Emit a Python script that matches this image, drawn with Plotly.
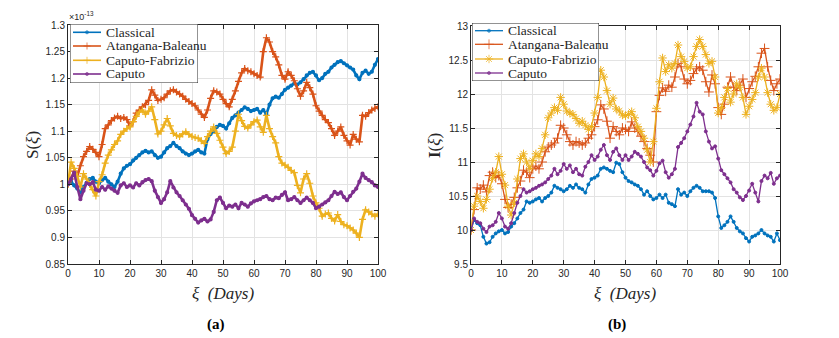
import plotly.graph_objects as go

# ---- data ----
days = list(range(0, 101))
names = ["Classical", "Atangana-Baleanu", "Caputo-Fabrizio", "Caputo"]
colors = ["#0072BD", "#D95319", "#EDB120", "#7E2F8E"]

# panel (a): S(xi), in units of 1e-13
s_classical = [1.000, 1.005, 0.998, 0.992, 0.985, 0.995, 1.003, 1.010, 1.012, 1.005,
               1.002, 1.008, 1.012, 1.005, 1.000, 0.995, 1.005, 1.020, 1.030, 1.035,
               1.038, 1.045, 1.050, 1.055, 1.060, 1.063, 1.060, 1.062, 1.055, 1.050,
               1.052, 1.060, 1.068, 1.072, 1.078, 1.072, 1.068, 1.062, 1.058, 1.055,
               1.058, 1.062, 1.065, 1.060, 1.058, 1.085, 1.095, 1.100, 1.108, 1.112,
               1.110, 1.105, 1.115, 1.125, 1.130, 1.135, 1.140, 1.145, 1.142, 1.138,
               1.140, 1.142, 1.135, 1.140, 1.132, 1.150, 1.162, 1.165, 1.163, 1.170,
               1.178, 1.182, 1.186, 1.190, 1.188, 1.192, 1.198, 1.205, 1.210, 1.212,
               1.205, 1.196, 1.200, 1.208, 1.212, 1.220, 1.225, 1.230, 1.232, 1.228,
               1.224, 1.220, 1.216, 1.205, 1.198, 1.210, 1.214, 1.208, 1.212, 1.225,
               1.236]
s_atangana = [1.000, 1.010, 1.025, 1.015, 1.035, 1.052, 1.062, 1.071, 1.066, 1.060,
              1.052, 1.075, 1.105, 1.112, 1.120, 1.125, 1.128, 1.124, 1.126, 1.122,
              1.110, 1.118, 1.134, 1.140, 1.146, 1.150, 1.158, 1.178, 1.168, 1.158,
              1.160, 1.163, 1.170, 1.176, 1.178, 1.174, 1.170, 1.166, 1.160, 1.156,
              1.152, 1.148, 1.140, 1.132, 1.126, 1.140, 1.162, 1.176, 1.174, 1.170,
              1.160, 1.152, 1.146, 1.160, 1.176, 1.194, 1.210, 1.218, 1.214, 1.212,
              1.208, 1.205, 1.202, 1.250, 1.276, 1.268, 1.250, 1.240, 1.225, 1.205,
              1.198, 1.212, 1.205, 1.195, 1.180, 1.166, 1.176, 1.192, 1.182, 1.170,
              1.148, 1.138, 1.130, 1.122, 1.116, 1.105, 1.092, 1.100, 1.108, 1.092,
              1.082, 1.074, 1.094, 1.085, 1.080, 1.130, 1.128, 1.135, 1.140, 1.143,
              1.146]
s_fabrizio = [1.000, 1.042, 1.030, 1.015, 0.995, 1.020, 1.010, 1.000, 0.990, 0.978,
              1.005, 1.018, 1.040, 1.055, 1.065, 1.075, 1.082, 1.094, 1.100, 1.105,
              1.108, 1.118, 1.128, 1.136, 1.140, 1.132, 1.138, 1.146, 1.122, 1.095,
              1.100, 1.112, 1.124, 1.110, 1.096, 1.092, 1.090, 1.095, 1.099, 1.094,
              1.090, 1.088, 1.087, 1.082, 1.077, 1.090, 1.100, 1.108, 1.096, 1.083,
              1.070, 1.058, 1.062, 1.070, 1.100, 1.132, 1.120, 1.109, 1.106, 1.112,
              1.118, 1.121, 1.108, 1.098, 1.130, 1.105, 1.090, 1.078, 1.052, 1.040,
              1.036, 1.032, 1.026, 1.022, 0.998, 0.984, 1.010, 1.020, 1.002, 0.978,
              0.965, 0.955, 0.940, 0.944, 0.946, 0.936, 0.931, 0.943, 0.930, 0.924,
              0.922, 0.918, 0.914, 0.908, 0.900, 0.934, 0.952, 0.948, 0.944, 0.940,
              0.944]
s_caputo = [1.000, 1.010, 1.022, 0.995, 0.972, 0.988, 1.002, 1.000, 1.004, 0.990,
            0.988, 0.995, 0.990, 0.996, 0.992, 0.988, 0.984, 0.998, 1.002, 0.995,
            0.998, 0.994, 1.002, 0.998, 1.004, 1.008, 1.010, 1.006, 0.988, 0.976,
            0.965, 0.972, 0.985, 1.006, 0.994, 0.985, 0.978, 0.970, 0.962, 0.954,
            0.942, 0.935, 0.928, 0.932, 0.935, 0.930, 0.934, 0.948, 0.970, 0.975,
            0.965, 0.955, 0.960, 0.958, 0.962, 0.955, 0.965, 0.962, 0.958, 0.964,
            0.968, 0.970, 0.972, 0.976, 0.978, 0.972, 0.970, 0.975, 0.974, 0.980,
            0.985, 0.970, 0.972, 0.976, 0.970, 0.965, 0.970, 0.975, 0.970, 0.965,
            0.955, 0.958, 0.962, 0.966, 0.970, 0.978, 0.986, 0.982, 0.985, 0.976,
            0.970, 0.978, 0.986, 0.992, 1.005, 1.020, 1.012, 1.008, 1.004, 0.998,
            0.995]

# panel (b): I(xi)
i_classical = [10.00, 10.15, 10.10, 10.07, 9.90, 9.80, 9.82, 9.90, 9.95, 9.98,
               10.00, 9.95, 9.97, 10.05, 10.10, 10.17, 10.25, 10.30, 10.42, 10.40,
               10.42, 10.45, 10.47, 10.42, 10.47, 10.50, 10.55, 10.65, 10.62, 10.60,
               10.57, 10.60, 10.65, 10.62, 10.67, 10.62, 10.60, 10.55, 10.67, 10.75,
               10.77, 10.80, 10.90, 10.92, 10.90, 10.87, 10.85, 10.99, 10.97, 10.85,
               10.77, 10.72, 10.70, 10.67, 10.65, 10.60, 10.52, 10.57, 10.50, 10.45,
               10.47, 10.52, 10.47, 10.52, 10.40, 10.38, 10.35, 10.60, 10.52, 10.55,
               10.50, 10.57, 10.62, 10.65, 10.62, 10.57, 10.57, 10.57, 10.55, 10.47,
               10.20, 10.03, 10.07, 10.12, 10.20, 10.12, 10.03, 9.98, 9.95, 9.88,
               9.83, 9.90, 9.92, 9.95, 10.00, 9.95, 9.92, 9.90, 9.83, 9.95,
               9.85]
i_atangana = [10.00, 10.30, 10.62, 10.60, 10.66, 10.56, 10.80, 10.85, 10.77, 10.80,
              10.68, 10.45, 10.33, 10.38, 10.48, 10.62, 10.72, 10.88, 10.85, 10.77,
              10.90, 10.94, 10.90, 11.00, 11.15, 11.22, 11.25, 11.28, 11.35, 11.54,
              11.50, 11.40, 11.30, 11.25, 11.30, 11.28, 11.25, 11.28, 11.35, 11.40,
              11.52, 11.62, 11.84, 11.78, 11.60, 11.35, 11.52, 11.45, 11.40, 11.50,
              11.48, 11.45, 11.59, 11.50, 11.45, 11.38, 11.30, 11.20, 11.10, 11.00,
              11.74, 11.98, 12.09, 12.04, 12.13, 12.10, 12.25, 12.45, 12.40, 12.22,
              12.15, 12.20, 12.30, 12.37, 12.40, 12.35, 12.18, 12.03, 12.28, 12.15,
              11.80, 11.70, 11.85, 12.10, 12.25, 12.10, 12.05, 12.13, 12.22, 11.95,
              12.08, 12.18, 12.26, 12.40, 12.60, 12.67, 12.40, 12.20, 12.05, 12.15,
              12.22]
i_fabrizio = [10.00, 10.35, 10.50, 10.42, 10.32, 10.45, 10.60, 10.76, 10.85, 11.08,
              10.82, 10.66, 10.35, 10.22, 10.40, 10.75, 11.05, 11.12, 11.00, 10.90,
              11.02, 11.12, 11.08, 11.20, 11.40, 11.65, 11.72, 11.80, 11.76, 11.95,
              11.85, 11.75, 11.72, 11.70, 11.64, 11.57, 11.60, 11.54, 11.48, 11.52,
              11.72, 11.95, 12.35, 12.25, 12.05, 11.85, 11.94, 11.78, 11.75, 11.69,
              11.68, 11.70, 11.74, 11.65, 11.52, 11.45, 11.35, 11.18, 11.00, 11.30,
              11.79, 12.18, 12.53, 12.33, 12.43, 12.38, 12.45, 12.72, 12.55, 12.48,
              12.38, 12.40, 12.55, 12.70, 12.80, 12.70, 12.58, 12.45, 12.48, 12.25,
              11.72, 11.80, 11.95, 12.08, 11.88, 12.00, 12.15, 12.10, 11.95, 11.70,
              11.82, 11.92, 12.02, 12.25, 12.38, 12.25, 12.02, 11.85, 11.76, 11.80,
              12.00]
i_caputo = [10.00, 10.17, 10.12, 10.10, 10.02, 9.97, 10.05, 10.07, 10.12, 10.25,
            10.17, 10.05, 10.02, 10.10, 10.25, 10.40, 10.50, 10.60, 10.55, 10.57,
            10.60, 10.62, 10.65, 10.67, 10.70, 10.75, 10.80, 10.90, 10.82, 10.87,
            10.97, 10.90, 10.95, 10.85, 10.90, 10.82, 10.80, 10.93, 11.00, 11.10,
            11.03, 11.08, 11.18, 11.25, 11.10, 11.03, 11.15, 11.20, 11.10, 11.03,
            11.10, 11.03, 11.08, 11.15, 11.12, 11.08, 11.00, 10.92, 10.88, 10.80,
            10.87, 10.98, 11.02, 10.85, 10.77, 10.82, 10.90, 11.22, 11.28, 11.35,
            11.45, 11.55, 11.67, 11.87, 11.74, 11.70, 11.45, 11.30, 11.20, 11.23,
            11.05, 10.88, 10.82, 10.76, 10.70, 10.60, 10.55, 10.48, 10.44, 10.50,
            10.58, 10.68, 10.55, 10.42, 10.72, 10.80, 10.76, 10.84, 10.68, 10.76,
            10.80]

x_ticks = [0, 10, 20, 30, 40, 50, 60, 70, 80, 90, 100]
s_ticks = [0.85, 0.9, 0.95, 1.0, 1.05, 1.1, 1.15, 1.2, 1.25, 1.3]
s_ticktext = ["0.85", "0.9", "0.95", "1", "1.05", "1.1", "1.15", "1.2", "1.25", "1.3"]
i_ticks = [9.5, 10, 10.5, 11, 11.5, 12, 12.5, 13]
i_ticktext = ["9.5", "10", "10.5", "11", "11.5", "12", "12.5", "13"]

s_series = [s_classical, s_atangana, s_fabrizio, s_caputo]
i_series = [i_classical, i_atangana, i_fabrizio, i_caputo]
s_markers = ["circle", "cross-thin-open", "cross-thin-open", "circle"]
i_markers = ["circle", "cross-thin-open", "asterisk-open", "circle"]

SERIF = "Liberation Serif"
SANS = "Liberation Sans"
INK = "#262626"

# the page body has an 8px margin, so work in window pixels and convert
W, H, OFF = 831, 330, 8


def fx(px):
    return (px - OFF) / W


def fy(py):
    return 1 - (py - OFF) / H


def msize(mk, big):
    return 3 if mk == "circle" else big


fig = go.Figure()

for name, col, ys, mk in zip(names, colors, s_series, s_markers):
    fig.add_trace(go.Scatter(
        x=days, y=ys, name=name, mode="lines+markers", xaxis="x", yaxis="y",
        line=dict(color=col, width=2.6),
        marker=dict(symbol=mk, size=msize(mk, 5), color=col, line=dict(color=col, width=1.2)),
        showlegend=False))

for name, col, ys, mk in zip(names, colors, i_series, i_markers):
    fig.add_trace(go.Scatter(
        x=days, y=ys, name=name, mode="lines+markers", xaxis="x2", yaxis="y2",
        line=dict(color=col, width=1.3),
        marker=dict(symbol=mk, size=msize(mk, 7), color=col, line=dict(color=col, width=1)),
        showlegend=False))

# MATLAB-style legend boxes, drawn on overlay axes measured in window pixels
legend_boxes = [
    # (xaxis, yaxis, left, right, top, bottom, row centres, line x0, line x1, markers, marker size, line width)
    ("x3", "y3", 70, 198, 24, 83, [32.3, 46.0, 60.3, 74.0], 73, 101, s_markers, 5, 1.6),
    ("x4", "y4", 472, 599, 23, 81, [30.7, 44.3, 59.0, 73.0], 475, 503, i_markers, 7, 1.3),
]
annotations = []
for xa, ya, l, r, t, b, rows, lx0, lx1, mks, big, lw in legend_boxes:
    fig.add_trace(go.Scatter(
        x=[l, r, r, l, l], y=[t, t, b, b, t], xaxis=xa, yaxis=ya, mode="lines",
        fill="toself", fillcolor="white", line=dict(color=INK, width=1),
        hoverinfo="skip", showlegend=False))
    for name, col, yc, mk in zip(names, colors, rows, mks):
        fig.add_trace(go.Scatter(
            x=[lx0, (lx0 + lx1) / 2, lx1], y=[yc, yc, yc], xaxis=xa, yaxis=ya,
            mode="lines+markers", line=dict(color=col, width=lw),
            marker=dict(symbol=mk, size=[0, msize(mk, big), 0], color=col,
                        line=dict(color=col, width=1)),
            hoverinfo="skip", showlegend=False))
        annotations.append(dict(
            text=name, x=fx(lx1 + 3), y=fy(yc), xref="paper", yref="paper",
            xanchor="left", yanchor="middle", showarrow=False,
            font=dict(family=SERIF, size=13.5, color=INK)))

ax_common = dict(
    showline=True, mirror="ticks", linecolor=INK, linewidth=1,
    ticks="inside", ticklen=4, tickcolor=INK, automargin=False,
    showgrid=True, gridcolor="#e3e3e3", gridwidth=1, zeroline=False,
    tickfont=dict(family=SANS, size=10, color=INK),
)
hidden = dict(visible=False, fixedrange=True, automargin=False)
title_font = dict(family=SERIF, size=17, color=INK)

annotations += [
    dict(text="S(<i>ξ</i>)", x=fx(32), y=fy(145), textangle=-90),
    dict(text="<b>I</b>(<i>ξ</i>)", x=fx(434), y=fy(145), textangle=-90),
    dict(text="<i>ξ</i>  <i>(Days)</i>", x=fx(223), y=fy(293)),
    dict(text="<i>ξ</i>  <i>(Days)</i>", x=fx(625), y=fy(293)),
]
for a in annotations[-4:]:
    a.update(xref="paper", yref="paper", xanchor="center", yanchor="middle",
             showarrow=False, font=title_font)
annotations += [
    dict(text="×10<sup>-13</sup>", x=fx(67), y=fy(24), xref="paper", yref="paper",
         xanchor="left", yanchor="bottom", showarrow=False,
         font=dict(family=SANS, size=9, color=INK)),
    dict(text="<b>(a)</b>", x=fx(216), y=fy(324), xref="paper", yref="paper",
         xanchor="center", yanchor="middle", showarrow=False,
         font=dict(family=SERIF, size=15, color="black")),
    dict(text="<b>(b)</b>", x=fx(617), y=fy(324), xref="paper", yref="paper",
         xanchor="center", yanchor="middle", showarrow=False,
         font=dict(family=SERIF, size=15, color="black")),
]

fig.update_layout(
    width=W, height=H,
    margin=dict(l=0, r=0, t=0, b=0),
    paper_bgcolor="white", plot_bgcolor="white",
    showlegend=False,
    xaxis=dict(ax_common, domain=[fx(68), fx(378)], range=[0, 100],
               tickvals=x_ticks, anchor="y"),
    yaxis=dict(ax_common, domain=[fy(264), fy(25)], range=[0.85, 1.3],
               tickvals=s_ticks, ticktext=s_ticktext, anchor="x"),
    xaxis2=dict(ax_common, domain=[fx(471), fx(780)], range=[0, 100],
                tickvals=x_ticks, anchor="y2"),
    yaxis2=dict(ax_common, domain=[fy(264), fy(26)], range=[9.5, 13],
                tickvals=i_ticks, ticktext=i_ticktext, anchor="x2"),
    xaxis3=dict(hidden, domain=[fx(70), fx(198)], range=[70, 198], anchor="y3"),
    yaxis3=dict(hidden, domain=[fy(83), fy(24)], range=[83, 24], anchor="x3"),
    xaxis4=dict(hidden, domain=[fx(472), fx(599)], range=[472, 599], anchor="y4"),
    yaxis4=dict(hidden, domain=[fy(81), fy(23)], range=[81, 23], anchor="x4"),
    annotations=annotations,
)

fig.write_html("out.html")
